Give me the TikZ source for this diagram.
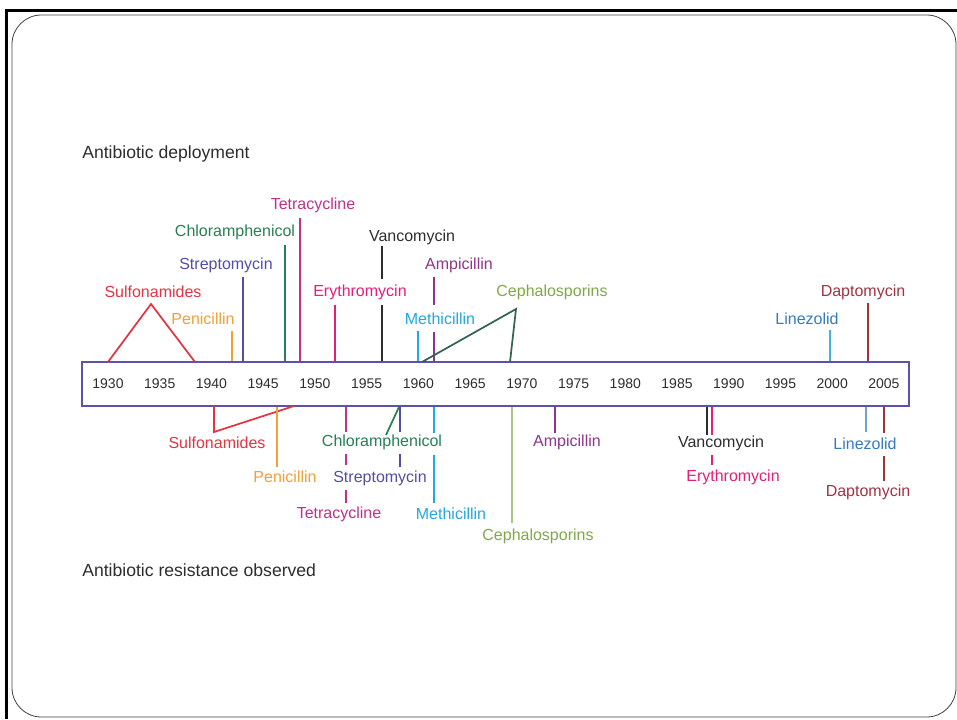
\documentclass[tikz,border=0pt]{standalone}
\usepackage{fontspec}
\setmainfont{Liberation Sans}
\usetikzlibrary{positioning}

\definecolor{sulfa}{RGB}{226,52,66}
\definecolor{peni}{RGB}{240,160,52}
\definecolor{strep}{RGB}{82,78,168}
\definecolor{chloro}{RGB}{38,128,84}
\definecolor{tetra}{RGB}{192,48,140}
\definecolor{erythro}{RGB}{228,30,120}
\definecolor{vanco}{RGB}{45,45,45}
\definecolor{ampi}{RGB}{142,52,140}
\definecolor{methi}{RGB}{32,168,225}
\definecolor{cepha}{RGB}{128,168,72}
\definecolor{cephadark}{RGB}{52,100,80}
\definecolor{cephalight}{RGB}{172,196,140}
\definecolor{line}{RGB}{52,122,192}
\definecolor{linelight}{RGB}{64,180,212}
\definecolor{dapto}{RGB}{162,50,64}
\definecolor{axiscol}{RGB}{92,82,172}

\begin{document}
\begin{tikzpicture}[
    x=0.75pt, y=-0.75pt,
    drug/.style={font=\fontsize{12}{14}\selectfont, inner sep=0pt},
    year/.style={font=\fontsize{10.5}{12}\selectfont, text=vanco, inner sep=0pt},
    heading/.style={font=\fontsize{13.2}{15}\selectfont, text=vanco, anchor=west, inner sep=0pt},
    axisbox/.style={draw=axiscol, line width=1.5pt, minimum width=620.25pt, minimum height=33pt, inner sep=0pt},
    tick/.style={line width=1.3pt}
    ]
    \useasboundingbox (0,0) rectangle (957,719);

    %% Slide frame
    \draw[line width=2.25pt] (5,10) -- (957,10);
    \draw[line width=2.25pt] (6,9) -- (6,719);
    \draw[line width=0.6pt, draw=black!75, rounded corners=22pt] (12,15) rectangle (956,717);

    %% Headings
    \node[heading](deploy) at (82,154) {Antibiotic deployment};
    \node[heading](resist) at (82,570) {Antibiotic resistance observed};

    %% Time axis
    \node[axisbox](axis) at (495.5,384) {};
    \foreach \yr [count=\i from 0] in {1930,1935,...,2005}
        \node[year](y\yr) at (108+\i*51.73,384) {\yr};

    %% Deployment (above the axis)
    \node[drug, text=sulfa](sulfT) at (153,292) {Sulfonamides};
    \coordinate (sulfTa) at (108,362);
    \coordinate (sulfTb) at (151,304);
    \coordinate (sulfTc) at (195,362);
    \draw[tick, sulfa] (sulfTa) -- (sulfTb) -- (sulfTc);

    \node[drug, text=peni](penT) at (203,319) {Penicillin};
    \coordinate (penTa) at (232,331);
    \draw[tick, peni] (penTa) -- (penTa |- axis.north);

    \node[drug, text=strep](strepT) at (226,265) {Streptomycin};
    \coordinate (strepTa) at (243,277);
    \draw[tick, strep] (strepTa) -- (strepTa |- axis.north);

    \node[drug, text=chloro](chlorT) at (235,232) {Chloramphenicol};
    \coordinate (chlorTa) at (285,245);
    \draw[tick, chloro] (chlorTa) -- (chlorTa |- axis.north);

    \node[drug, text=tetra](tetT) at (313,205) {Tetracycline};
    \coordinate (tetTa) at (300,218);
    \draw[tick, tetra] (tetTa) -- (tetTa |- axis.north);

    \node[drug, text=erythro](eryT) at (360,292) {Erythromycin};
    \coordinate (eryTa) at (335,305);
    \draw[tick, erythro] (eryTa) -- (eryTa |- axis.north);

    \node[drug, text=vanco](vancT) at (412,237) {Vancomycin};
    \coordinate (vancTa) at (382,246);
    \coordinate (vancTb) at (382,279);
    \coordinate (vancTc) at (382,305);
    \draw[tick, vanco] (vancTa) -- (vancTb) (vancTc) -- (vancTc |- axis.north);

    \node[drug, text=ampi](ampT) at (459,265) {Ampicillin};
    \coordinate (ampTa) at (434,277);
    \coordinate (ampTb) at (434,305);
    \coordinate (ampTc) at (434,332);
    \draw[tick, ampi] (ampTa) -- (ampTb) (ampTc) -- (ampTc |- axis.north);

    \node[drug, text=methi](methT) at (440,319) {Methicillin};
    \coordinate (methTa) at (418,331);
    \draw[tick, methi] (methTa) -- (methTa |- axis.north);

    \node[drug, text=cepha](cephT) at (552,292) {Cephalosporins};
    \coordinate (cephTa) at (422,362);
    \coordinate (cephTb) at (516,309);
    \coordinate (cephTc) at (510,362);
    \draw[tick, cephadark] (cephTa) -- (cephTb) -- (cephTc);

    \node[drug, text=line](linT) at (807,319) {Linezolid};
    \coordinate (linTa) at (830,330);
    \draw[tick, linelight] (linTa) -- (linTa |- axis.north);

    \node[drug, text=dapto](dapT) at (863,292) {Daptomycin};
    \coordinate (dapTa) at (868,303);
    \draw[tick, dapto] (dapTa) -- (dapTa |- axis.north);

    %% Resistance (below the axis)
    \node[drug, text=sulfa](sulfB) at (217,443) {Sulfonamides};
    \coordinate (sulfBa) at (214,406);
    \coordinate (sulfBb) at (214,432);
    \coordinate (sulfBc) at (294,406);
    \draw[tick, sulfa] (sulfBa) -- (sulfBb) -- (sulfBc);

    \node[drug, text=peni](penB) at (285,477) {Penicillin};
    \coordinate (penBa) at (277,467);
    \draw[tick, peni] (penBa |- axis.south) -- (penBa);

    \node[drug, text=chloro](chlorB) at (382,442) {Chloramphenicol};
    \coordinate (chlorBa) at (399,407);
    \coordinate (chlorBb) at (386,435);
    \draw[tick, chloro] (chlorBa) -- (chlorBb);

    \node[drug, text=strep](strepB) at (380,478) {Streptomycin};
    \coordinate (strepBa) at (400,432);
    \coordinate (strepBb) at (400,454);
    \coordinate (strepBc) at (400,467);
    \draw[tick, strep] (strepBa |- axis.south) -- (strepBa) (strepBb) -- (strepBc);

    \node[drug, text=tetra](tetB) at (339,514) {Tetracycline};
    \coordinate (tetBa) at (346,432);
    \coordinate (tetBb) at (346,454);
    \coordinate (tetBc) at (346,465);
    \coordinate (tetBd) at (346,490);
    \coordinate (tetBe) at (346,503);
    \draw[tick, tetra] (tetBa |- axis.south) -- (tetBa) (tetBb) -- (tetBc) (tetBd) -- (tetBe);

    \node[drug, text=methi](methB) at (451,514) {Methicillin};
    \coordinate (methBa) at (434,433);
    \coordinate (methBb) at (434,455);
    \coordinate (methBc) at (434,503);
    \draw[tick, methi] (methBa |- axis.south) -- (methBa) (methBb) -- (methBc);

    \node[drug, text=cepha](cephB) at (538,536) {Cephalosporins};
    \coordinate (cephBa) at (512,523);
    \draw[tick, cephalight] (cephBa |- axis.south) -- (cephBa);

    \node[drug, text=ampi](ampB) at (567,442) {Ampicillin};
    \coordinate (ampBa) at (555,433);
    \draw[tick, ampi] (ampBa |- axis.south) -- (ampBa);

    \node[drug, text=vanco](vancB) at (721,443) {Vancomycin};
    \coordinate (vancBa) at (707,435);
    \draw[tick, vanco] (vancBa |- axis.south) -- (vancBa);

    \node[drug, text=erythro](eryB) at (733,477) {Erythromycin};
    \coordinate (eryBa) at (712,435);
    \coordinate (eryBb) at (712,455);
    \coordinate (eryBc) at (712,465);
    \draw[tick, erythro] (eryBa |- axis.south) -- (eryBa) (eryBb) -- (eryBc);

    \node[drug, text=line](linB) at (865,444) {Linezolid};
    \coordinate (linBa) at (866,432);
    \draw[tick, line!70] (linBa |- axis.south) -- (linBa);

    \node[drug, text=dapto](dapB) at (868,492) {Daptomycin};
    \coordinate (dapBa) at (884,433);
    \coordinate (dapBb) at (884,456);
    \coordinate (dapBc) at (884,481);
    \draw[tick, dapto] (dapBa |- axis.south) -- (dapBa) (dapBb) -- (dapBc);
\end{tikzpicture}
\end{document}
